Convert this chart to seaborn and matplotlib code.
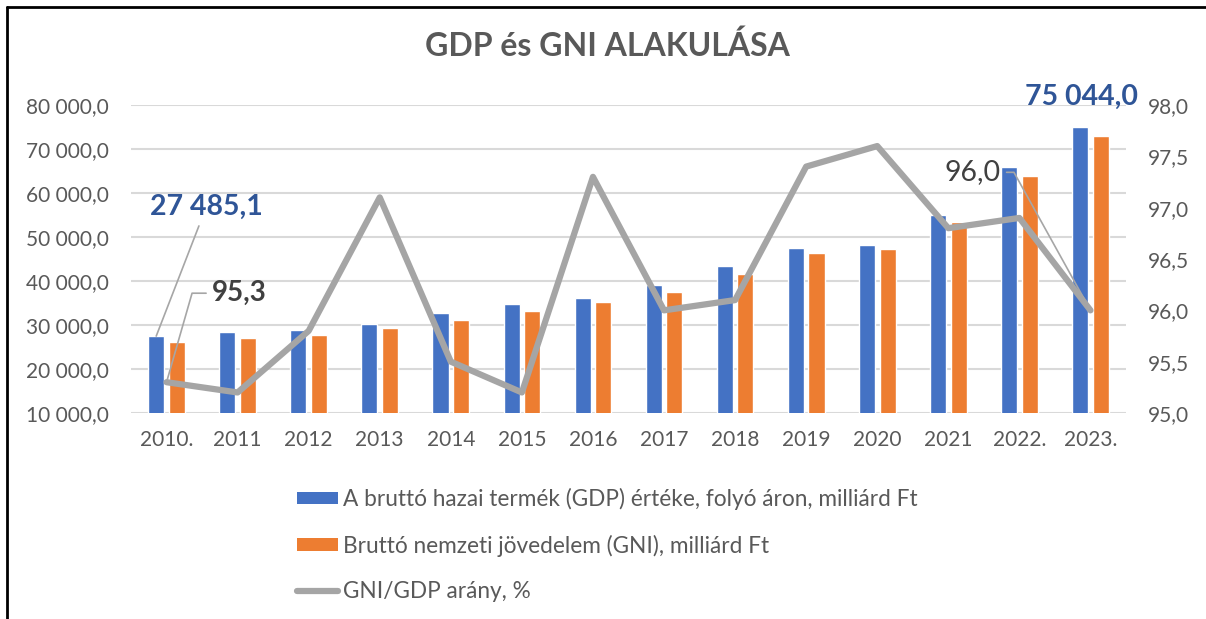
import matplotlib
matplotlib.use("Agg")
import matplotlib.pyplot as plt
from matplotlib.lines import Line2D
from matplotlib.patches import Patch
import numpy as np
import pandas as pd
import seaborn as sns

years = ['2010.', '2011', '2012', '2013', '2014', '2015', '2016', '2017',
         '2018', '2019', '2020', '2021', '2022.', '2023.']
gdp = [27485.1, 28360, 28860, 30160, 32650, 34840, 36140, 39090,
       43340, 47580, 48250, 55000, 65980, 75044.0]
gni = [26070, 27050, 27650, 29320, 31200, 33180, 35160, 37500,
       41590, 46290, 47200, 53340, 63930, 72890]
ratio = [95.3, 95.2, 95.8, 97.1, 95.5, 95.2, 97.3, 96.0,
         96.1, 97.4, 97.6, 96.8, 96.9, 96.0]
series_names = ['A bruttó hazai termék (GDP) értéke, folyó áron, milliárd Ft',
                'Bruttó nemzeti jövedelem (GNI), milliárd Ft',
                'GNI/GDP arány, %']
left_ticks = [10000, 20000, 30000, 40000, 50000, 60000, 70000, 80000]
right_ticks = [95.0, 95.5, 96.0, 96.5, 97.0, 97.5, 98.0]

BLUE = '#4472C4'
ORANGE = '#ED7D31'
GREY = '#A5A5A5'
TXT = '#595959'

sns.set_style('white')
plt.rcParams['font.family'] = ['Lato', 'DejaVu Sans']

df = pd.DataFrame({
    'year': years * 2,
    'value': gdp + gni,
    'series': [series_names[0]] * len(years) + [series_names[1]] * len(years),
})

fig = plt.figure(figsize=(12.06, 6.19), dpi=100)
ax = fig.add_axes([131 / 1206, 1 - 413 / 619, (1126 - 131) / 1206, (413 - 105) / 619])

sns.barplot(data=df, x='year', y='value', hue='series', order=years,
            hue_order=series_names[:2], palette=[BLUE, ORANGE],
            width=0.58, gap=0.22, ax=ax, legend=False, saturation=1)

ax.set_ylim(10000, 80000)
ax.set_xlim(-0.5, len(years) - 0.5)
ax.set_yticks(left_ticks)
ax.set_yticklabels([f"{v:,.1f}".replace(',', ' ').replace('.', ',') for v in left_ticks])
ax.yaxis.grid(True, color='#D9D9D9', linewidth=1.5)
ax.set_axisbelow(True)
ax.set_xlabel('')
ax.set_ylabel('')
for s in ax.spines.values():
    s.set_visible(False)
ax.tick_params(axis='both', length=0, labelsize=15, colors=TXT)
ax.tick_params(axis='x', pad=12)
ax.tick_params(axis='y', pad=16)

ax2 = ax.twinx()
sns.lineplot(x=np.arange(len(years)), y=ratio, ax=ax2, color=GREY,
             linewidth=4.5, solid_joinstyle='round', solid_capstyle='round')
ax2.set_ylim(95, 98)
ax2.set_yticks(right_ticks)
ax2.set_yticklabels([f"{v:.1f}".replace('.', ',') for v in right_ticks])
ax2.tick_params(axis='y', length=0, labelsize=15, colors=TXT, pad=16)
ax2.set_ylabel('')
for s in ax2.spines.values():
    s.set_visible(False)
ax2.grid(False)

# annotations
lead = dict(arrowstyle='-', color='#A6A6A6', lw=1.2, shrinkA=2, shrinkB=0)
ax.annotate(f"{gdp[0]:,.1f}".replace(',', ' ').replace('.', ','),
            xy=(0 - 0.145, gdp[0]), xytext=(50, 129), textcoords='offset pixels',
            ha='center', va='center', fontsize=20.5, fontweight='bold', color='#2F5597',
            arrowprops=lead, annotation_clip=False)
ax2.annotate(f"{ratio[0]:.1f}".replace('.', ','),
             xy=(0, ratio[0]), xytext=(73, 89), textcoords='offset pixels',
             ha='center', va='center', fontsize=20, fontweight='bold', color='#404040',
             arrowprops=dict(lead, connectionstyle='angle,angleA=0,angleB=74,rad=0',
                             relpos=(0, 0.5)),
             annotation_clip=False)
ax2.annotate(f"{ratio[-1]:.1f}".replace('.', ','),
             xy=(len(years) - 1, ratio[-1]), xytext=(-118, 138), textcoords='offset pixels',
             ha='center', va='center', fontsize=20.5, color='#404040',
             arrowprops=dict(lead, connectionstyle='angle,angleA=0,angleB=-61,rad=0',
                             relpos=(1, 0.5)),
             annotation_clip=False)
ax.annotate(f"{gdp[-1]:,.1f}".replace(',', ' ').replace('.', ','),
            xy=(len(years) - 1 - 0.145, gdp[-1]), xytext=(1, 30), textcoords='offset pixels',
            ha='center', va='center', fontsize=20.5, fontweight='bold', color='#2F5597',
            annotation_clip=False)

fig.text(607 / 1206, 1 - 46 / 619, 'GDP és GNI ALAKULÁSA', ha='center', va='center',
         fontsize=23, fontweight='bold', color=TXT)

handles = [Patch(facecolor=BLUE, edgecolor='none'),
           Patch(facecolor=ORANGE, edgecolor='none'),
           Line2D([0], [0], color=GREY, lw=4.5, solid_capstyle='round')]
fig.legend(handles, series_names, loc='upper left',
           bbox_to_anchor=(297 / 1206, 1 - 488 / 619), frameon=False,
           fontsize=16.3, labelcolor=TXT, borderpad=0, borderaxespad=0,
           handlelength=1.82, handleheight=0.47, handletextpad=0.22, labelspacing=1.08)

# outer frame (top and left)
fig.add_artist(Line2D([7 / 1206, 1], [1 - 7 / 619, 1 - 7 / 619], transform=fig.transFigure,
                      color='black', lw=2))
fig.add_artist(Line2D([7 / 1206, 7 / 1206], [0, 1 - 7 / 619], transform=fig.transFigure,
                      color='black', lw=2))

fig.savefig('out.png', dpi=100)
